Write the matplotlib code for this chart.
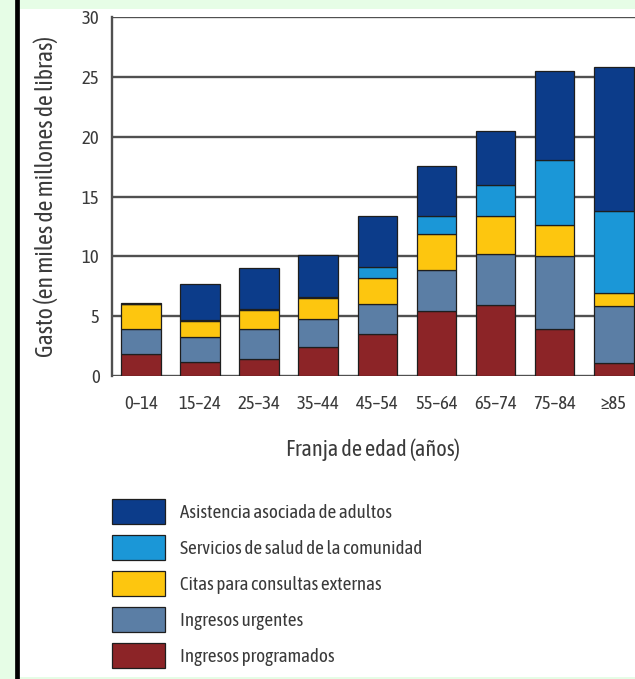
import numpy as np
import matplotlib
matplotlib.use('Agg')
import matplotlib.pyplot as plt
from matplotlib.patches import Rectangle
from matplotlib.lines import Line2D

#%% Data: spending by age band (thousands of millions of pounds)
age_bands = ['0–14', '15–24', '25–34', '35–44', '45–54', '55–64', '65–74', '75–84', '≥85']

ingresos_programados = [1.85, 1.2, 1.4, 2.4, 3.5, 5.45, 5.9, 3.9, 1.05]
ingresos_urgentes    = [2.05, 2.1, 2.55, 2.35, 2.55, 3.4, 4.3, 6.1, 4.8]
citas_consultas      = [2.15, 1.3, 1.6, 1.8, 2.15, 3.0, 3.2, 2.6, 1.05]
servicios_comunidad  = [0.0, 0.1, 0.05, 0.05, 0.9, 1.55, 2.55, 5.45, 6.85]
asistencia_adultos   = [0.05, 3.0, 3.4, 3.5, 4.3, 4.15, 4.55, 7.45, 12.1]

series = [
    ('Ingresos programados', ingresos_programados, '#8c2427'),
    ('Ingresos urgentes', ingresos_urgentes, '#5b7ea5'),
    ('Citas para consultas externas', citas_consultas, '#fdc60f'),
    ('Servicios de salud de la comunidad', servicios_comunidad, '#1b97d7'),
    ('Asistencia asociada de adultos', asistencia_adultos, '#0c3c8a'),
]

plt.rcParams['font.family'] = ['Asap Condensed', 'DejaVu Sans']
txt = '#3a3a3a'

#%% Figure and page background
fig = plt.figure(figsize=(6.35, 6.79), dpi=100, facecolor='#e6fde6')
fig.add_artist(Rectangle((19/635, 2/679), 1 - 19/635, 1 - 11/679,
                         transform=fig.transFigure, facecolor='white',
                         edgecolor='none', zorder=0))
fig.add_artist(Line2D([16.5/635, 16.5/635], [0, 1], transform=fig.transFigure,
                      color='black', lw=3.4, zorder=1))

ax = fig.add_axes([112/635, 1 - 376/679, 1 - 112/635, 359/679])
ax.set_facecolor('none')

#%% Stacked bars
x = np.arange(len(age_bands))
bottom = np.zeros(len(age_bands))
handles = []
for name, vals, col in series:
    vals = np.array(vals)
    b = ax.bar(x, vals, width=0.67, bottom=bottom, color=col,
               edgecolor='#1e1e1e', linewidth=0.9, label=name, zorder=3)
    handles.append(b)
    bottom += vals

ax.set_xlim(-0.49, 8.36)
ax.set_ylim(0, 30)
ax.set_yticks(range(0, 31, 5))
ax.set_xticks(x)
ax.set_xticklabels(age_bands)
ax.yaxis.grid(True, color='#505050', linewidth=1.7, zorder=0)
ax.set_axisbelow(True)
for s in ['top', 'right', 'bottom']:
    ax.spines[s].set_visible(False)
ax.spines['left'].set_color('#505050')
ax.spines['left'].set_linewidth(1.7)
ax.tick_params(axis='both', length=0, labelsize=13.5, labelcolor=txt)
ax.tick_params(axis='y', pad=9)
ax.tick_params(axis='x', pad=14)

ax.set_ylabel('Gasto (en miles de millones de libras)', fontsize=17, color=txt, labelpad=17)
ax.set_xlabel('Franja de edad (años)', fontsize=16, color=txt, labelpad=18)

#%% Legend, top entry first
leg = fig.legend(handles[::-1], [s[0] for s in series][::-1],
                 loc='upper left', bbox_to_anchor=(112/635, 1 - 499/679),
                 frameon=False, fontsize=13.7, handlelength=2.8, handleheight=1.65,
                 labelspacing=0.58, handletextpad=0.8, borderpad=0, borderaxespad=0)
for t in leg.get_texts():
    t.set_color(txt)

plt.savefig('out.png', dpi=100, facecolor=fig.get_facecolor())
